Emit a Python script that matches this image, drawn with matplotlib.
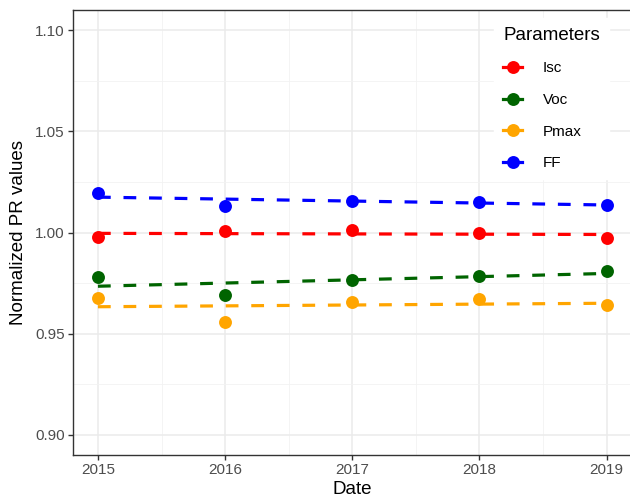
import numpy as np
import matplotlib.pyplot as plt
from matplotlib.lines import Line2D

plt.rcParams['font.family'] = ['Liberation Sans', 'DejaVu Sans']

# normalized PR values per year
years = [2015, 2016, 2017, 2018, 2019]
isc = [0.9977, 1.0006, 1.0010, 0.9998, 0.9974]
voc = [0.9779, 0.9692, 0.9763, 0.9784, 0.9812]
pmax = [0.9677, 0.9560, 0.9658, 0.9669, 0.9644]
ff = [1.0196, 1.0133, 1.0158, 1.0152, 1.0138]

params = ['Isc', 'Voc', 'Pmax', 'FF']
colors = ['red', '#006400', 'orange', 'blue']
series = [isc, voc, pmax, ff]

fig = plt.figure(figsize=(6.3, 5.04), dpi=100)
ax = fig.add_axes([72.5 / 630, 1 - 455 / 504, (632 - 72.5) / 630, (455 - 10) / 504])

x = np.array(years, dtype=float)
for name, col, vals in zip(params, colors, series):
    # linear trend, dashed, like geom_smooth(method = "lm")
    k, b = np.polyfit(x, vals, 1)
    ax.plot(x, k * x + b, color=col, lw=2.3, dashes=(4, 4), zorder=3)
    ax.plot(x, vals, 'o', color=col, ms=9.3, mec='none', zorder=4)

ax.set_xticks(years)
ax.set_xticklabels([str(y) for y in years])
ax.set_yticks([0.90, 0.95, 1.00, 1.05, 1.10])
ax.set_yticklabels(['0.90', '0.95', '1.00', '1.05', '1.10'])
ax.set_xticks(np.arange(2015.5, 2019.0, 1.0), minor=True)
ax.set_yticks([0.925, 0.975, 1.025, 1.075], minor=True)
ax.set_xlim(2014.8, 2019.2)
ax.set_ylim(0.89, 1.11)
ax.tick_params(which='minor', length=0)
ax.tick_params(which='major', length=3.5, width=1, color='#333333',
               labelcolor='#4D4D4D', labelsize=11, pad=2)
ax.grid(which='major', color='#EBEBEB', lw=1.1)
ax.grid(which='minor', color='#F2F2F2', lw=0.6)
ax.set_axisbelow(True)
for s in ax.spines.values():
    s.set_color('#333333')
    s.set_linewidth(1)

ax.set_xlabel('Date', fontsize=13.5, labelpad=3)
ax.set_ylabel('Normalized PR values', fontsize=13.5, labelpad=6)

handles = [Line2D([], [], color=c, lw=2.3, marker='o', ms=9.3, mec='none')
           for c in colors]
leg = ax.legend(handles, params, title='Parameters', loc='upper left',
                bbox_to_anchor=(0.74, 1.0), frameon=True, fancybox=False,
                edgecolor='white', facecolor='white', framealpha=1,
                fontsize=11, title_fontsize=13.5, handlelength=1.2,
                handletextpad=1.4, labelspacing=1.15, borderpad=0.6)
leg._legend_box.align = 'left'

fig.savefig('out.png', dpi=100)
